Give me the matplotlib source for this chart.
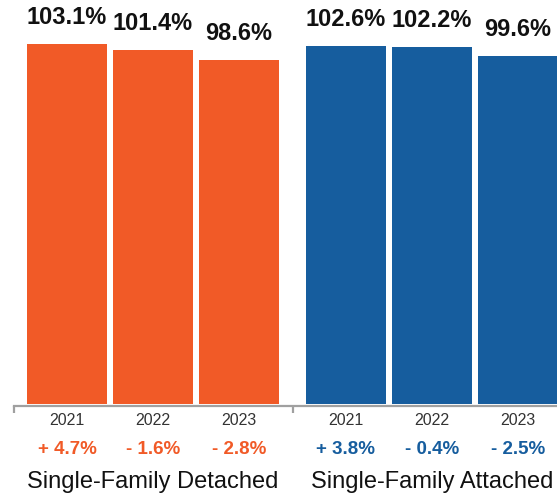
import numpy as np
import matplotlib.pyplot as plt

plt.rcParams['font.family'] = ['Liberation Sans', 'DejaVu Sans']

#######################################################
years     = ["2021", "2022", "2023"]
groups    = ["Single-Family Detached", "Single-Family Attached"]
detached  = [103.1, 101.4, 98.6]
attached  = [102.6, 102.2, 99.6]
chg_det   = [4.7, -1.6, -2.8]
chg_att   = [3.8, -0.4, -2.5]
#######################################################

colors    = ["#F15A27", "#165D9E"]
values    = [detached, attached]
changes   = [chg_det, chg_att]
offsets   = [0.0, 3.244]
width     = 0.93

fig = plt.figure(figsize=(5.57, 4.97), dpi=100)
ax  = fig.add_axes([14/557, 93/497, 543/557, 404/497])

for g in range(2):
    x = np.arange(3) + offsets[g]
    ax.bar(x, values[g], width=width, color=colors[g], edgecolor="none")
    for xi, v, c, yr in zip(x, values[g], changes[g], years):
        ax.annotate(f"{v:.1f}%", (xi, v), xytext=(0, 14.4), textcoords="offset points",
                    ha="center", va="baseline", fontsize=17, fontweight="bold", color="#111111")
        ax.annotate(yr, (xi, 0), xytext=(0, -12.2), textcoords="offset points",
                    ha="center", va="center", fontsize=11.5, color="#333333")
        sign = "+" if c >= 0 else "-"
        ax.annotate(f"{sign} {abs(c):.1f}%", (xi, 0), xytext=(0, -32.4), textcoords="offset points",
                    ha="center", va="center", fontsize=13.5, fontweight="bold", color=colors[g])
    ax.annotate(groups[g], (x[1], 0), xytext=(0, -56), textcoords="offset points",
                ha="center", va="center", fontsize=17, color="#111111")

ax.set_xlim(-0.616, -0.616 + 543/86)
ax.set_ylim(0, 404/3.49)
for s in ["top", "right", "left"]:
    ax.spines[s].set_visible(False)
ax.spines["bottom"].set_color("#A0A0A0")
ax.spines["bottom"].set_linewidth(1.6)
ax.spines["bottom"].set_position(("outward", 1.2))
ax.set_yticks([])
ax.set_xticks([-0.616, -0.616 + offsets[1]])
ax.set_xticklabels([])
ax.tick_params(axis="x", length=5, width=1.6, color="#A0A0A0")

plt.savefig("out.png", dpi=100)
